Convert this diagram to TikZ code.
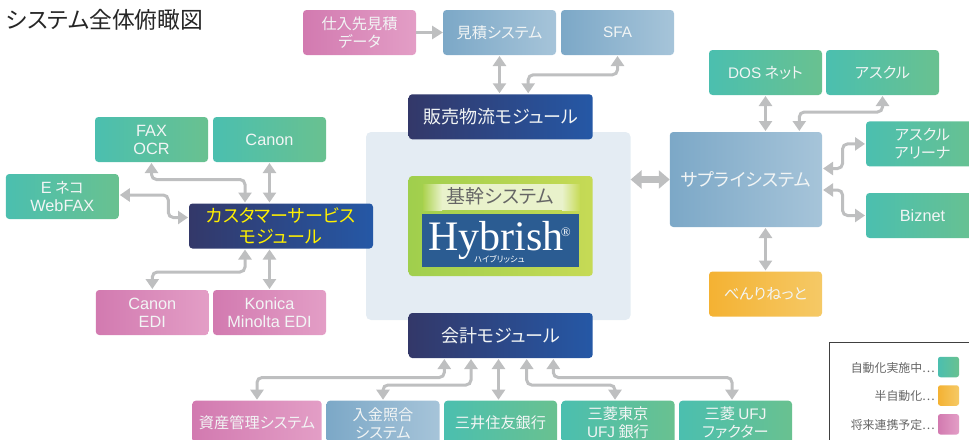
\documentclass[tikz,border=0pt]{standalone}
\usepackage{fontspec}
\setmainfont[RawFeature=+palt]{Noto Sans CJK JP}
\newfontfamily\hybfont{Liberation Serif}
\newfontfamily\latfont{Liberation Sans}
\newfontfamily\dotfont[RawFeature=+fwid]{Noto Sans CJK JP}
\newcommand{\lat}[1]{{\latfont\fontsize{16.3}{18}\selectfont #1}}
\newcommand{\lats}[1]{{\latfont\fontsize{15.3}{18}\selectfont #1}}
\newcommand{\dts}{{\dotfont …}}
\usetikzlibrary{arrows.meta}
\definecolor{grnA}{HTML}{4BBFAF}\definecolor{grnB}{HTML}{69C190}
\definecolor{pnkA}{HTML}{D27AB0}\definecolor{pnkB}{HTML}{E39EC6}
\definecolor{bluA}{HTML}{7CA8C7}\definecolor{bluB}{HTML}{A6C4D9}
\definecolor{navA}{HTML}{333869}\definecolor{navB}{HTML}{2558A6}
\definecolor{ornA}{HTML}{F4B233}\definecolor{ornB}{HTML}{F5C966}
\definecolor{limA}{HTML}{A0CF4D}\definecolor{limB}{HTML}{C6DA55}
\definecolor{pale}{HTML}{E9F2CB}\definecolor{panelc}{HTML}{E4ECF3}
\definecolor{hybc}{HTML}{2B5C92}\definecolor{conc}{HTML}{BEBFC0}
\definecolor{txtc}{HTML}{F2F5F5}\definecolor{legc}{HTML}{666666}
\tikzset{
  box/.style={rounded corners=3.5pt,minimum width=113pt,minimum height=45pt,inner sep=0pt,outer sep=0pt,
    align=center,text=txtc,font=\fontsize{15.2}{18}\selectfont},
  grn/.style={box,left color=grnA,right color=grnB},
  pnk/.style={box,left color=pnkA,right color=pnkB},
  blu/.style={box,left color=bluA,right color=bluB},
  orn/.style={box,left color=ornA,right color=ornB},
  modbox/.style={box,left color=navA,right color=navB,minimum width=184pt,font=\fontsize{18}{21}\selectfont},
  conn/.style={draw=conc,line width=3pt,rounded corners=5pt,shorten <=1pt,shorten >=1pt,
    {Triangle[length=10pt,width=13pt]}-{Triangle[length=10pt,width=13pt]}},
  conone/.style={draw=conc,line width=3pt,-{Triangle[length=11pt,width=13pt]}},
  bigconn/.style={draw=conc,line width=7pt,{Triangle[length=11pt,width=18pt]}-{Triangle[length=11pt,width=18pt]}},
  legtxt/.style={anchor=east,inner sep=0pt,text=legc,font=\fontsize{11.9}{14}\selectfont},
  swatch/.style={box,minimum width=21pt,minimum height=20.5pt,rounded corners=2.5pt},
}
\begin{document}
\begin{tikzpicture}[x=1pt,y=-1pt]
\useasboundingbox (0,0) rectangle (969,439);
\clip (0,0) rectangle (969,439);
\node[anchor=west,inner sep=0pt,text=black!85,font=\fontsize{22.8}{26}\selectfont] (title) at (6,19.5) {システム全体俯瞰図};
% central panel
\node[rounded corners=5pt,fill=panelc,minimum width=264.6pt,minimum height=188pt,inner sep=0pt,outer sep=0pt] (panel) at (498.3,226) {};
% top row
\node[pnk] (shiire) at (359.5,32.5) {仕入先見積\\データ};
\node[blu] (est) at (499.5,32.5) {見積システム};
\node[blu] (sfa) at (617.5,32.5) {\lats{SFA}};
% modules
\node[modbox] (sales) at (500.7,116.8) {販売物流モジュール};
\node[modbox] (kaikei) at (500.7,335.5) {会計モジュール};
\node[modbox,text={rgb,255:red,255;green,240;blue,0},minimum height=45pt] (cs) at (281,226) {カスタマーサービス\\モジュール};
% core
\node[box,left color=limA,right color=limB,minimum width=184pt,minimum height=100pt] (core) at (500.7,226) {};
\shade[left color=limA!70!limB,right color=pale] (423,184) rectangle (442,210);
\fill[pale] (442,184) rectangle (562,210);
\shade[left color=pale,right color=limB] (562,184) rectangle (580,210);
\node[inner sep=0pt,text=black!60,font=\fontsize{19}{22}\selectfont] (kikan) at (500.5,196.5) {基幹システム};
\node[fill=hybc,minimum width=157pt,minimum height=53pt,inner sep=0pt] (hybbox) at (500.5,240.5) {};
\node[anchor=base,inner sep=0pt,text=white,font=\hybfont\fontsize{42}{42}\selectfont] (hyb) at (495.8,250) {Hybrish};
\node[inner sep=0pt,text=white,font=\hybfont\fontsize{13}{13}\selectfont] (reg) at (565.7,232.5) {®};
\node[inner sep=0pt,text=white,font=\fontsize{8.3}{9}\selectfont] (hybkana) at (499.5,259) {ハイブリッシュ};
% left group
\node[grn] (fax) at (151.5,139.5) {\lat{FAX}\\\lat{OCR}};
\node[grn] (canon) at (269.5,139.5) {\lat{Canon}};
\node[grn] (eneko) at (62.3,196.5) {\lat{E} ネコ\\\lat{WebFAX}};
\node[pnk] (edi) at (152.3,312.5) {\lat{Canon}\\\lat{EDI}};
\node[pnk] (kon) at (269.5,312.5) {\lat{Konica}\\\lat{Minolta EDI}};
% right group
\node[blu,minimum width=152.3pt,minimum height=95pt,font=\fontsize{18}{20}\selectfont] (sup) at (745.9,179.5) {サプライシステム};
\node[grn] (dos) at (765.5,72.5) {\lats{DOS} ネット};
\node[grn] (askul) at (882.5,72.5) {アスクル};
\node[grn] (arena) at (922.5,143.9) {アスクル\\アリーナ};
\node[grn] (biz) at (922.5,215.5) {\lat{Biznet}};
\node[orn] (benri) at (765.5,294) {べんりねっと};
% bottom row
\node[pnk,minimum width=129.4pt] (shisan) at (257,423.2) {資産管理システム};
\node[blu] (nyukin) at (383,423.2) {入金照合\\システム};
\node[grn] (mitsui) at (500.5,423.2) {三井住友銀行};
\node[grn] (mufg) at (618,423.2) {三菱東京\\\lats{UFJ} 銀行};
\node[grn] (factor) at (735.5,423.2) {三菱 \lats{UFJ}\\ファクター};
% connectors
\draw[conn] (fax.south) -- ++(0,17.5) -| ([xshift=-36pt]cs.north);
\draw[conn] (canon.south) -- (canon.south |- cs.north);
\draw[conn] ([yshift=1.5pt]eneko.east) -- ++(49.5,0) |- ([yshift=8.5pt]cs.west);
\draw[conn] ([xshift=-36pt]cs.south) -- ++(0,23.5) -| (edi.north);
\draw[conn] (kon.north) -- (kon.north |- cs.south);
\draw[conn] (est.south) -- (est.south |- sales.north);
\draw[conn] ([xshift=27.5pt]sales.north) -- ++(0,-19.5) -| (sfa.south);
\draw[conone] (shiire.east) -- (est.west);
\draw[bigconn] (panel.east |- sup.west) -- (sup.west);
\draw[conn] (dos.south) -- (dos.south |- sup.north);
\draw[conn] ([xshift=53.4pt]sup.north) -- ++(0,-20) -| (askul.south);
\draw[conn] ([yshift=11pt]sup.east) -- ++(20.5,0) |- (arena.west);
\draw[conn] ([yshift=-10.5pt]sup.east) -- ++(20.5,0) |- (biz.west);
\draw[conn] (benri.north) -- (benri.north |- sup.south);
\draw[conn] ([xshift=-56.4pt]kaikei.south) -- ++(0,19.5) -| (shisan.north);
\draw[conn] ([xshift=-29.7pt]kaikei.south) -- ++(0,27) -| (nyukin.north);
\draw[conn] ([xshift=-2pt]mitsui.north) -- ([xshift=-2pt]mitsui.north |- kaikei.south);
\draw[conn] ([xshift=26pt]kaikei.south) -- ++(0,27) -| ([xshift=-3pt]mufg.north);
\draw[conn] ([xshift=52.6pt]kaikei.south) -- ++(0,19.5) -| ([xshift=-3.5pt]factor.north);
% legend
\node[draw=black!75,line width=1pt,fill=white,minimum width=150pt,minimum height=110pt,inner sep=0pt] (legend) at (904,397.7) {};
\node[swatch,left color=grnA,right color=grnB] (sw1) at (948.5,367) {};
\node[swatch,left color=ornA,right color=ornB] (sw2) at (948.5,395.5) {};
\node[swatch,left color=pnkA,right color=pnkB] (sw3) at (948.5,424.3) {};
\node[legtxt] (lg1) at (935,367.5) {自動化実施中\dts};
\node[legtxt] (lg2) at (935,395.5) {半自動化\dts};
\node[legtxt] (lg3) at (935,424.5) {将来連携予定\dts};
\end{tikzpicture}
\end{document}
